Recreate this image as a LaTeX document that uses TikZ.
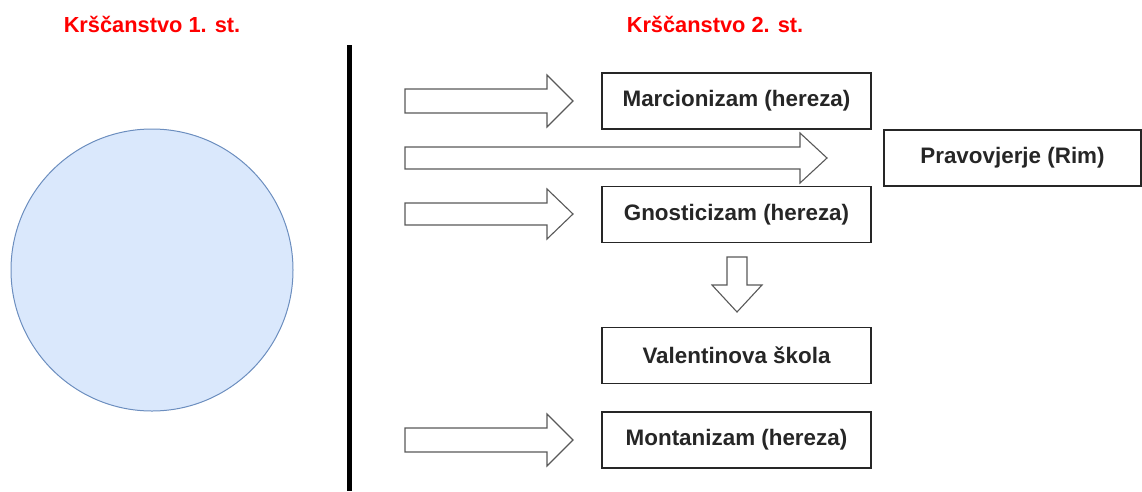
\documentclass[tikz,border=0pt]{standalone}
\usepackage{fontspec}
\setmainfont{Liberation Sans}
\begin{document}
\begin{tikzpicture}[x=1pt,y=-1pt,
  title/.style={text=red, font=\fontsize{21.8}{24}\selectfont\bfseries, inner sep=0pt, anchor=center},
  box/.style={draw=black!85, line width=1.1pt, fill=white, minimum width=269pt, minimum height=56pt, inner sep=0pt, font=\fontsize{22.4}{24}\selectfont\bfseries, text=black!85},
  fatarrow/.style={draw=black!65, line width=1.1pt, fill=white, line join=miter},
  divider/.style={line width=5pt, black}]
\useasboundingbox (0,0) rectangle (1142,491);
% titles
\node[title] (t1) at (152,24) {Krščanstvo 1. st.};
\node[title] (t2) at (715,24) {Krščanstvo 2. st.};
% circle
\node[circle, draw={rgb,255:red,108;green,142;blue,191}, line width=1pt, fill={rgb,255:red,218;green,232;blue,252}, minimum size=282pt, inner sep=0pt] (c) at (152,270) {};
% divider
\coordinate (d1) at (349,45);
\coordinate (d2) at (349,491);
\draw[divider] (d1) -- (d2);
% boxes
\node[box] (m) at (736.5,101) {Marcionizam (hereza)};
\node[box, minimum width=257pt] (p) at (1012.5,158) {Pravovjerje (Rim)};
\node[box] (g) at (736.5,214.5) {Gnosticizam (hereza)};
\node[box] (v) at (736.5,355.5) {Valentinova škola};
\node[box] (mo) at (736.5,440) {Montanizam (hereza)};
% fat arrows (right)
\draw[fatarrow] (405,89) -- (547,89) -- (547,75) -- (573,101) -- (547,127) -- (547,113) -- (405,113) -- cycle;
\draw[fatarrow] (405,147) -- (800,147) -- (800,133) -- (827,158) -- (800,183) -- (800,169) -- (405,169) -- cycle;
\draw[fatarrow] (405,203) -- (547,203) -- (547,189) -- (573,214) -- (547,239) -- (547,225) -- (405,225) -- cycle;
\draw[fatarrow] (405,428) -- (547,428) -- (547,414) -- (573,440) -- (547,466) -- (547,452) -- (405,452) -- cycle;
% fat arrow (down)
\draw[fatarrow] (727,257) -- (747,257) -- (747,285) -- (762,285) -- (737,312) -- (712,285) -- (727,285) -- cycle;
\end{tikzpicture}
\end{document}
